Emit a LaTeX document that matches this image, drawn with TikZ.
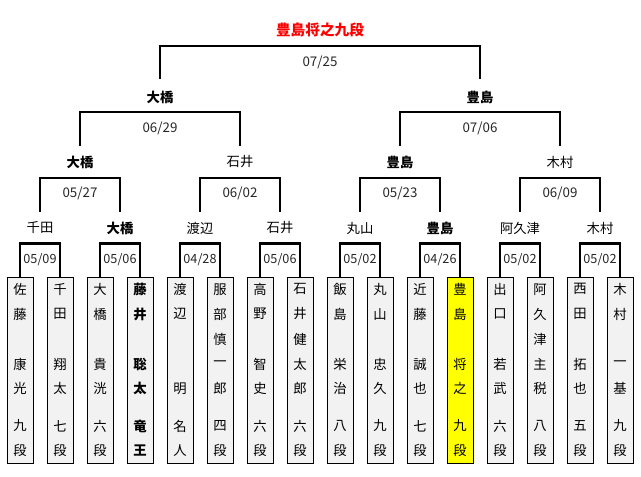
\documentclass[tikz,border=0pt]{standalone}
\usepackage{fontspec}
\setmainfont{Noto Sans CJK JP}
\usetikzlibrary{calc}
\definecolor{cellgray}{HTML}{F2F2F2}
\definecolor{champred}{HTML}{FF0000}
\definecolor{winyellow}{HTML}{FFFF00}
\tikzset{
  cellbox/.style={draw=black, line width=0.75pt, minimum width=19.5pt, minimum height=139.5pt, inner sep=0pt},
  cellchar/.style={inner sep=0pt, font=\fontsize{10}{10}\selectfont, text=black},
  pname/.style={inner sep=0pt, font=\fontsize{10}{10}\selectfont, text=black},
  wname/.style={pname, font=\fontsize{10}{10}\selectfont\bfseries},
  datelbl/.style={inner sep=0pt, font=\fontsize{10}{10}\selectfont, text=black!85},
  datelblsm/.style={inner sep=0pt, font=\fontsize{9.5}{9.5}\selectfont, text=black!85},
  bracket/.style={draw=black, line width=1.6pt},
  champ/.style={inner sep=0pt, font=\fontsize{11}{11}\selectfont\bfseries, text=champred}
}
\newcommand\kishi[4]{%
  \node[cellbox,fill=#2] (b#1) at ({40*#1-20},370) {};
  \foreach \ch [count=\rw] in {#4} {%
    \pgfmathsetmacro\yy{{289.3,314,339.3,364,388.7,426,450.7}[\rw-1]}%
    \node[cellchar,#3] (c#1-\rw) at ({40*#1-20},\yy) {\ch};
  }%
}
\begin{document}
\begin{tikzpicture}[x=0.75pt,y=-0.75pt]
\useasboundingbox (0,0) rectangle (641,477);
% first-round cells
\kishi{1}{cellgray}{}{佐,藤,,康,光,九,段}
\kishi{2}{cellgray}{}{千,田,,翔,太,七,段}
\kishi{3}{cellgray}{}{大,橋,,貴,洸,六,段}
\kishi{4}{cellgray}{font=\fontsize{10}{10}\selectfont\bfseries}{藤,井,,聡,太,竜,王}
\kishi{5}{cellgray}{}{渡,辺,,,明,名,人}
\kishi{6}{cellgray}{}{服,部,慎,一,郎,四,段}
\kishi{7}{cellgray}{}{高,野,,智,史,六,段}
\kishi{8}{cellgray}{}{石,井,健,太,郎,六,段}
\kishi{9}{cellgray}{}{飯,島,,栄,治,八,段}
\kishi{10}{cellgray}{}{丸,山,,忠,久,九,段}
\kishi{11}{cellgray}{}{近,藤,,誠,也,七,段}
\kishi{12}{winyellow}{}{豊,島,,将,之,九,段}
\kishi{13}{cellgray}{}{出,口,,若,武,六,段}
\kishi{14}{cellgray}{}{阿,久,津,主,税,八,段}
\kishi{15}{cellgray}{}{西,田,,拓,也,五,段}
\kishi{16}{cellgray}{}{木,村,,一,基,九,段}
% first-round brackets and dates
\foreach \k/\dt in {1/05\slash 09,2/05\slash 06,3/04\slash 28,4/05\slash 06,5/05\slash 02,6/04\slash 26,7/05\slash 02,8/05\slash 02} {
  \pgfmathtruncatemacro\ba{2*\k-1}
  \pgfmathtruncatemacro\bb{2*\k}
  \draw[bracket] (b\ba.north) -- ++(0,-33) -| (b\bb.north);
  \node[datelblsm] (d1-\k) at ({80*\k-40},260) {\dt};
}
% second-level names
\node[pname] (n2-1) at (40,228) {千田};
\node[wname] (n2-2) at (120,228) {大橋};
\node[pname] (n2-3) at (200,228) {渡辺};
\node[pname] (n2-4) at (280,228) {石井};
\node[pname] (n2-5) at (360,228) {丸山};
\node[wname] (n2-6) at (440,228) {豊島};
\node[pname] (n2-7) at (520,228) {阿久津};
\node[pname] (n2-8) at (600,228) {木村};
% second-level brackets
\foreach \k/\dt in {1/05\slash 27,2/06\slash 02,3/05\slash 23,4/06\slash 09} {
  \pgfmathtruncatemacro\ba{2*\k-1}
  \pgfmathtruncatemacro\bb{2*\k}
  \draw[bracket] ([yshift=12pt]n2-\ba.center) -- ++(0,-34) -| ([yshift=12pt]n2-\bb.center);
  \node[datelbl] (d2-\k) at ({160*\k-80},193) {\dt};
}
% third-level names
\node[wname] (n3-1) at (80,162) {大橋};
\node[pname] (n3-2) at (240,162) {石井};
\node[wname] (n3-3) at (400,162) {豊島};
\node[pname] (n3-4) at (560,162) {木村};
\draw[bracket] ([yshift=12pt]n3-1.center) -- ++(0,-34) -| ([yshift=12pt]n3-2.center);
\draw[bracket] ([yshift=12pt]n3-3.center) -- ++(0,-34) -| ([yshift=12pt]n3-4.center);
\node[datelbl] (d3-1) at (160,128) {06/29};
\node[datelbl] (d3-2) at (480,128) {07/06};
% semifinal winners
\node[wname] (n4-1) at (160,97) {大橋};
\node[wname] (n4-2) at (480,97) {豊島};
\draw[bracket] ([yshift=13.5pt]n4-1.center) -- ++(0,-33) -| ([yshift=13.5pt]n4-2.center);
\node[datelbl] (d4-1) at (320,62) {07/25};
% champion
\node[champ] (champ) at (320,30) {豊島将之九段};
\end{tikzpicture}
\end{document}
